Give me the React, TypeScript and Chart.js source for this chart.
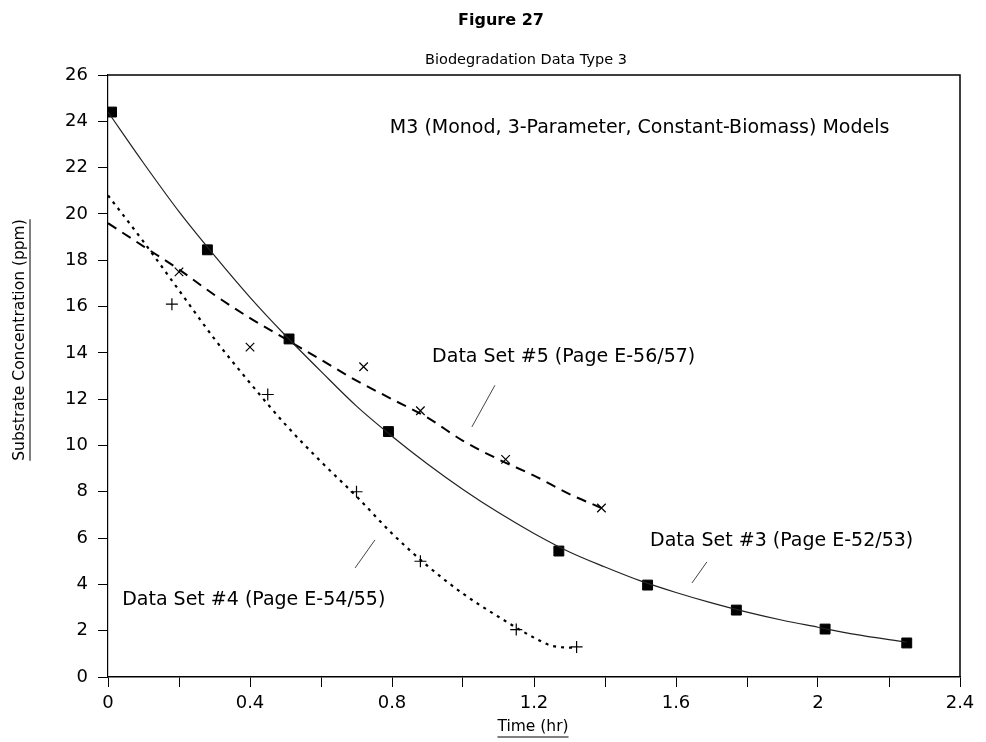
import React, { useEffect, useRef } from 'react';
import { Chart, registerables } from 'chart.js';

Chart.register(...registerables);

// Observed data (time in hr, concentration in ppm)
const set3Time = [0.01, 0.28, 0.51, 0.79, 1.27, 1.52, 1.77, 2.02, 2.25];
const set3Conc = [24.4, 18.45, 14.6, 10.6, 5.44, 3.97, 2.89, 2.07, 1.47];

const set5Time = [0.2, 0.4, 0.72, 0.88, 1.12, 1.39];
const set5Conc = [17.5, 14.25, 13.4, 11.5, 9.4, 7.3];

const set4Time = [0.18, 0.45, 0.7, 0.88, 1.15, 1.32];
const set4Conc = [16.1, 12.2, 8.0, 5.0, 2.05, 1.3];

// Model (fitted) curves
const model3Time = [0, 0.1, 0.2, 0.3, 0.4, 0.5, 0.6, 0.7, 0.8, 0.9, 1.0, 1.1, 1.2, 1.3, 1.4, 1.5, 1.6, 1.7, 1.8, 1.9, 2.0, 2.1, 2.25];
const model3Conc = [24.4, 22.2, 20.1, 18.2, 16.4, 14.75, 13.2, 11.7, 10.4, 9.2, 8.1, 7.1, 6.2, 5.4, 4.75, 4.15, 3.65, 3.2, 2.8, 2.45, 2.15, 1.85, 1.5];

const model5Time = [0, 0.1, 0.2, 0.3, 0.4, 0.5, 0.6, 0.7, 0.8, 0.9, 1.0, 1.1, 1.2, 1.3, 1.39];
const model5Conc = [19.6, 18.6, 17.6, 16.5, 15.5, 14.6, 13.7, 12.8, 12.0, 11.2, 10.2, 9.4, 8.7, 7.9, 7.3];

const model4Time = [0, 0.1, 0.2, 0.3, 0.4, 0.5, 0.6, 0.7, 0.8, 0.9, 1.0, 1.1, 1.2, 1.25, 1.32];
const model4Conc = [20.8, 18.8, 16.7, 14.6, 12.7, 10.9, 9.3, 7.8, 6.2, 4.8, 3.6, 2.6, 1.7, 1.35, 1.25];

// Axis ticks
const xTickLabels = ['0', '0.4', '0.8', '1.2', '1.6', '2', '2.4'];

// Texts
const figureTitle = 'Figure 27';
const chartTitle = 'Biodegradation Data Type 3';
const yAxisTitle = 'Substrate Concentration (ppm)';
const xAxisTitle = 'Time (hr)';

const noteTexts = [
  'M3 (Monod, 3-Parameter, Constant-Biomass) Models',
  'Data Set #5 (Page E-56/57)',
  'Data Set #3 (Page E-52/53)',
  'Data Set #4 (Page E-54/55)',
];
const noteTime = [0.794, 0.913, 1.527, 0.04];
const noteConc = [23.7, 13.8, 5.87, 3.33];

// Leader lines (from, to) in data units
const leaderFromTime = [1.09, 1.687, 0.752];
const leaderFromConc = [12.6, 4.97, 5.92];
const leaderToTime = [1.025, 1.645, 0.696];
const leaderToConc = [10.8, 4.06, 4.71];

const FONT = '"DejaVu Sans", "Liberation Sans", sans-serif';

const pts = (xs: number[], ys: number[]) => xs.map((x, i) => ({ x, y: ys[i] }));

const decorPlugin = {
  id: 'decor',
  afterDraw(chart: any) {
    const { ctx, chartArea: a, scales } = chart;
    const xs = scales.x;
    const ys = scales.y;
    ctx.save();
    // top and right frame
    ctx.strokeStyle = '#000';
    ctx.lineWidth = 1.5;
    ctx.beginPath();
    ctx.moveTo(a.left, a.top);
    ctx.lineTo(a.right, a.top);
    ctx.lineTo(a.right, a.bottom);
    ctx.stroke();

    ctx.fillStyle = '#000';
    ctx.textBaseline = 'middle';

    // titles
    ctx.textAlign = 'center';
    ctx.font = `bold 16px ${FONT}`;
    ctx.fillText(figureTitle, 501, 21);
    ctx.font = `14.5px ${FONT}`;
    ctx.fillText(chartTitle, 526, 60);

    // x axis title underlined
    ctx.font = `15.5px ${FONT}`;
    const xt = 533;
    const yt = 727;
    ctx.fillText(xAxisTitle, xt, yt);
    const wx = ctx.measureText(xAxisTitle).width;
    ctx.lineWidth = 1;
    ctx.beginPath();
    ctx.moveTo(xt - wx / 2, yt + 10);
    ctx.lineTo(xt + wx / 2, yt + 10);
    ctx.stroke();

    // y axis title rotated, underlined
    ctx.save();
    ctx.translate(20, 340);
    ctx.rotate(-Math.PI / 2);
    ctx.font = `15.5px ${FONT}`;
    ctx.fillText(yAxisTitle, 0, 0);
    const wy = ctx.measureText(yAxisTitle).width;
    ctx.beginPath();
    ctx.moveTo(-wy / 2, 10);
    ctx.lineTo(wy / 2, 10);
    ctx.stroke();
    ctx.restore();

    // notes
    ctx.textAlign = 'left';
    ctx.font = `19px ${FONT}`;
    noteTexts.forEach((t, i) => {
      ctx.fillText(t, xs.getPixelForValue(noteTime[i]), ys.getPixelForValue(noteConc[i]));
    });

    // leader lines
    ctx.strokeStyle = '#444';
    ctx.lineWidth = 1;
    leaderFromTime.forEach((_, i) => {
      ctx.beginPath();
      ctx.moveTo(xs.getPixelForValue(leaderFromTime[i]), ys.getPixelForValue(leaderFromConc[i]));
      ctx.lineTo(xs.getPixelForValue(leaderToTime[i]), ys.getPixelForValue(leaderToConc[i]));
      ctx.stroke();
    });
    ctx.restore();
  },
};

export default function App() {
  const ref = useRef<HTMLCanvasElement | null>(null);

  useEffect(() => {
    if (!ref.current) return;
    const chart = new Chart(ref.current, {
      type: 'scatter',
      data: {
        datasets: [
          {
            label: 'Model #3',
            data: pts(model3Time, model3Conc),
            showLine: true,
            borderColor: '#222',
            borderWidth: 1.2,
            pointRadius: 0,
            cubicInterpolationMode: 'monotone',
          },
          {
            label: 'Model #5',
            data: pts(model5Time, model5Conc),
            showLine: true,
            borderColor: '#000',
            borderWidth: 2,
            borderDash: [10, 7],
            pointRadius: 0,
            cubicInterpolationMode: 'monotone',
          },
          {
            label: 'Model #4',
            data: pts(model4Time, model4Conc),
            showLine: true,
            borderColor: '#000',
            borderWidth: 2.2,
            borderDash: [3, 5],
            pointRadius: 0,
            cubicInterpolationMode: 'monotone',
          },
          {
            label: 'Data Set #3',
            data: pts(set3Time, set3Conc),
            pointStyle: 'rect',
            pointRadius: 7,
            backgroundColor: '#000',
            borderColor: '#000',
            borderWidth: 1,
          },
          {
            label: 'Data Set #5',
            data: pts(set5Time, set5Conc),
            pointStyle: 'crossRot',
            pointRadius: 6,
            backgroundColor: '#000',
            borderColor: '#000',
            borderWidth: 1.2,
          },
          {
            label: 'Data Set #4',
            data: pts(set4Time, set4Conc),
            pointStyle: 'cross',
            pointRadius: 6,
            backgroundColor: '#000',
            borderColor: '#000',
            borderWidth: 1.2,
          },
        ],
      },
      options: {
        animation: false,
        responsive: false,
        layout: { padding: { top: 75, right: 26, left: 0, bottom: 0 } },
        plugins: { legend: { display: false }, tooltip: { enabled: false }, title: { display: false } },
        scales: {
          x: {
            type: 'linear',
            min: 0,
            max: 2.4,
            afterFit: (s: any) => { s.height = 65; },
            border: { display: true, color: '#000', width: 1.5 },
            grid: { display: true, drawOnChartArea: false, drawTicks: true, tickLength: 10, color: '#000' },
            ticks: {
              stepSize: 0.2,
              autoSkip: false,
              maxRotation: 0,
              padding: 6,
              color: '#000',
              font: { family: FONT, size: 18 },
              callback: (v: any) => {
                const k = Math.round(Number(v) * 10);
                return k % 4 === 0 ? xTickLabels[k / 4] : '';
              },
            },
          },
          y: {
            type: 'linear',
            min: 0,
            max: 26,
            afterFit: (s: any) => { s.width = 108; },
            border: { display: true, color: '#000', width: 1.2 },
            grid: { display: true, drawOnChartArea: false, drawTicks: true, tickLength: 10, color: '#000' },
            ticks: {
              stepSize: 2,
              padding: 10,
              color: '#000',
              font: { family: FONT, size: 18 },
            },
          },
        },
      },
      plugins: [decorPlugin],
    } as any);
    return () => chart.destroy();
  }, []);

  return (
    <div style={{ position: 'fixed', left: 0, top: 0, width: 986, height: 742, background: '#fff' }}>
      <canvas ref={ref} width={986} height={742} style={{ width: 986, height: 742 }} />
    </div>
  );
}
